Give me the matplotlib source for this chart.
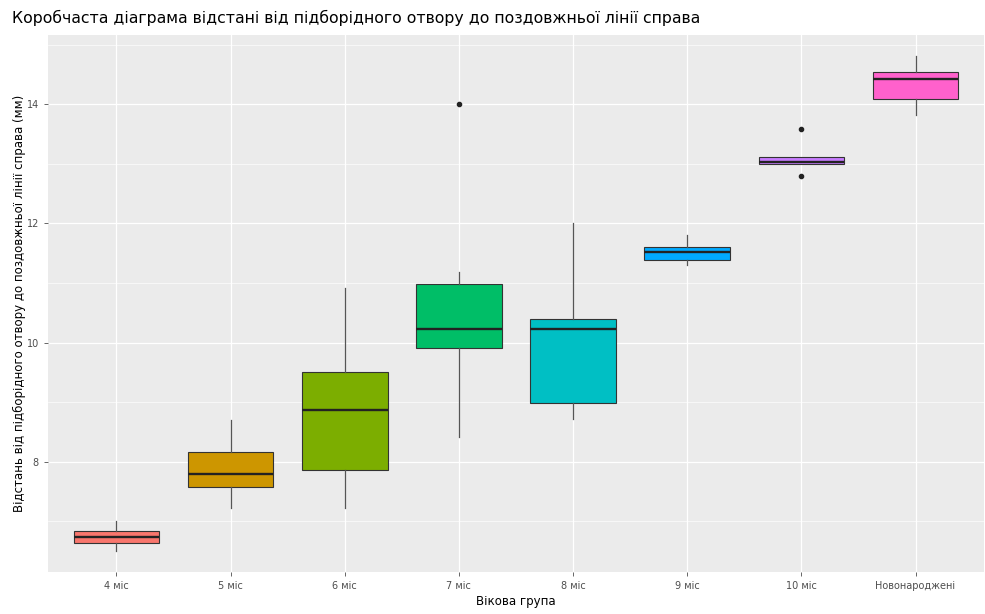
import matplotlib
matplotlib.use("Agg")
import matplotlib.pyplot as plt
from matplotlib.ticker import MultipleLocator

categories = ["4 міс", "5 міс", "6 міс", "7 міс", "8 міс", "9 міс", "10 міс", "Новонароджені"]
whislo = [6.50, 7.22, 7.22, 8.41, 8.71, 11.30, 12.99, 13.82]
q1     = [6.63, 7.58, 7.86, 9.90, 8.99, 11.38, 12.99, 14.08]
med    = [6.73, 7.79, 8.87, 10.22, 10.22, 11.52, 13.03, 14.42]
q3     = [6.84, 8.16, 9.50, 10.99, 10.39, 11.61, 13.12, 14.54]
whishi = [7.00, 8.70, 10.91, 11.19, 12.00, 11.80, 13.12, 14.81]
outliers = [[], [], [], [14.0], [], [], [13.59, 12.80], []]
colors = ["#F8766D", "#CD9600", "#7CAE00", "#00BE67", "#00BFC4", "#00A9FF", "#C77CFF", "#FF61CC"]

title = "Коробчаста діаграма відстані від підборідного отвору до поздовжньої лінії справа"
xlabel = "Вікова група"
ylabel = "Відстань від підборідного отвору до поздовжньої лінії справа (мм)"

plt.rcParams['font.family'] = ['DejaVu Sans']

fig = plt.figure(figsize=(9.85, 6.14), dpi=100)
ax = fig.add_axes([48/985, 1-572/614, (984-48)/985, (572-35)/614])
ax.set_facecolor("#EBEBEB")
for s in ax.spines.values():
    s.set_visible(False)

stats = []
for i in range(len(categories)):
    stats.append(dict(med=med[i], q1=q1[i], q3=q3[i], whislo=whislo[i], whishi=whishi[i],
                      fliers=outliers[i], label=categories[i]))
positions = list(range(1, len(categories)+1))
bp = ax.bxp(stats, positions=positions, widths=0.75, patch_artist=True, showcaps=False,
            boxprops=dict(edgecolor="#333333", linewidth=0.8),
            whiskerprops=dict(color="#555555", linewidth=0.9),
            medianprops=dict(color="#222222", linewidth=1.7),
            flierprops=dict(marker="o", markerfacecolor="#222222", markeredgecolor="#222222",
                            markersize=3.0, linestyle="none"))
for patch, c in zip(bp['boxes'], colors):
    patch.set_facecolor(c)
for el in bp['boxes'] + bp['whiskers'] + bp['medians'] + bp['fliers']:
    el.set_zorder(3)

ax.set_xlim(0.4, 8.6)
ax.set_ylim(6.15, 15.16)
ax.yaxis.set_major_locator(MultipleLocator(2))
ax.yaxis.set_minor_locator(MultipleLocator(1))
ax.set_xticks(positions)
ax.set_xticklabels(categories)
ax.grid(True, which="major", color="white", linewidth=0.9, zorder=0)
ax.grid(True, which="minor", axis="y", color="white", linewidth=0.45, zorder=0)
ax.set_axisbelow(True)
ax.tick_params(axis="both", which="major", colors="#4D4D4D", labelsize=7, length=3, width=0.6, labelcolor="#4D4D4D")
ax.tick_params(axis="y", which="minor", length=0)

ax.set_xlabel(xlabel, fontsize=8.5, color="black", labelpad=3)
ax.set_ylabel(ylabel, fontsize=8.5, color="black")
ax.yaxis.set_label_coords(-(48-26)/936, 0.5)
fig.text(12/985, 1-18/614, title, fontsize=11.3, color="black", va="center", ha="left")

fig.savefig("out.png", dpi=100)
